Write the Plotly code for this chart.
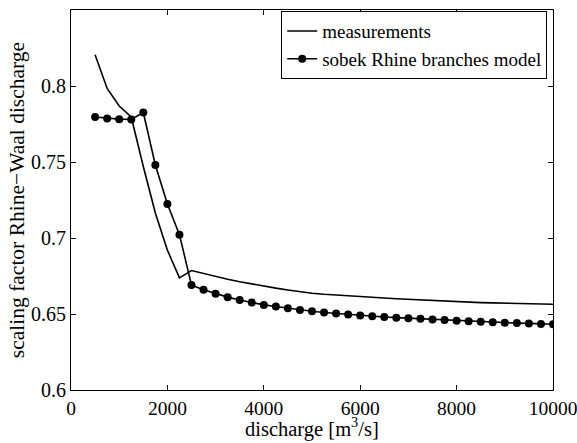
import plotly.graph_objects as go

# discharge grid [m3/s]
discharge = [500 + 250 * i for i in range(39)]

# measured scaling factor
measurements = [
    0.8206, 0.7984, 0.7868, 0.7796, 0.7470, 0.7165, 0.6920, 0.6738,
    0.6786, 0.6766, 0.6747, 0.6729, 0.6712, 0.6697, 0.6683, 0.6670,
    0.6658, 0.6646, 0.6637, 0.6630, 0.6624, 0.6619, 0.6615, 0.6610,
    0.6605, 0.6600, 0.6596, 0.6592, 0.6588, 0.6584, 0.6580, 0.6577,
    0.6575, 0.6573, 0.6571, 0.6569, 0.6567, 0.6565, 0.6564,
]

# SOBEK Rhine branches model result
model = [
    0.7796, 0.7787, 0.7782, 0.7780, 0.7826, 0.7480, 0.7223, 0.7022,
    0.6690, 0.6660, 0.6634, 0.6611, 0.6592, 0.6575, 0.6560, 0.6549,
    0.6538, 0.6527, 0.6518, 0.6510, 0.6503, 0.6496, 0.6490, 0.6485,
    0.6480, 0.6476, 0.6472, 0.6468, 0.6464, 0.6460, 0.6456, 0.6452,
    0.6449, 0.6446, 0.6443, 0.6440, 0.6438, 0.6435, 0.6433,
]

x_ticks = [0, 2000, 4000, 6000, 8000, 10000]
y_ticks = [0.6, 0.65, 0.7, 0.75, 0.8]

font_family = "Liberation Serif, serif"

fig = go.Figure()
fig.add_trace(go.Scatter(
    x=discharge, y=measurements, mode="lines", name="measurements",
    line=dict(color="black", width=1.6),
))
fig.add_trace(go.Scatter(
    x=discharge, y=model, mode="lines+markers",
    name="sobek Rhine branches model",
    line=dict(color="black", width=1.6),
    marker=dict(color="black", size=8, symbol="circle"),
))

axis_common = dict(
    showline=True, linecolor="black", linewidth=1.2, mirror="ticks",
    ticks="inside", ticklen=5, tickwidth=1, tickcolor="black",
    showgrid=False, zeroline=False, automargin=False,
    ticklabeloverflow="allow",
)

fig.update_xaxes(
    range=[0, 10000], tickvals=x_ticks, ticktext=[str(v) for v in x_ticks],
    tickfont=dict(family=font_family, size=19.5, color="black"),
    **axis_common,
)
fig.update_yaxes(
    range=[0.6, 0.85], tickvals=y_ticks, ticktext=[f"{v:g}" for v in y_ticks],
    tickfont=dict(family=font_family, size=20, color="black"),
    title=dict(text="scaling factor Rhine\u2212Waal discharge", standoff=0,
               font=dict(family=font_family, size=21.5, color="black")),
    **axis_common,
)

# x-axis title placed just above the bottom edge of the figure
fig.add_annotation(
    text="discharge [m<sup>3</sup>/s]",
    xref="paper", yref="paper", x=0.5, y=-0.1395,
    xanchor="center", yanchor="bottom", showarrow=False,
    font=dict(family=font_family, size=20.5, color="black"),
)

fig.update_layout(
    width=577, height=443,
    margin=dict(l=71, r=24, t=10, b=53),
    paper_bgcolor="white", plot_bgcolor="white",
    font=dict(family=font_family, size=19, color="black"),
    showlegend=True,
    legend=dict(
        x=0.988, y=0.997, xanchor="right", yanchor="top",
        bgcolor="white", bordercolor="black", borderwidth=1,
        font=dict(family=font_family, size=19, color="black"),
        tracegroupgap=0, itemwidth=30,
    ),
)

fig.write_html("out.html")
